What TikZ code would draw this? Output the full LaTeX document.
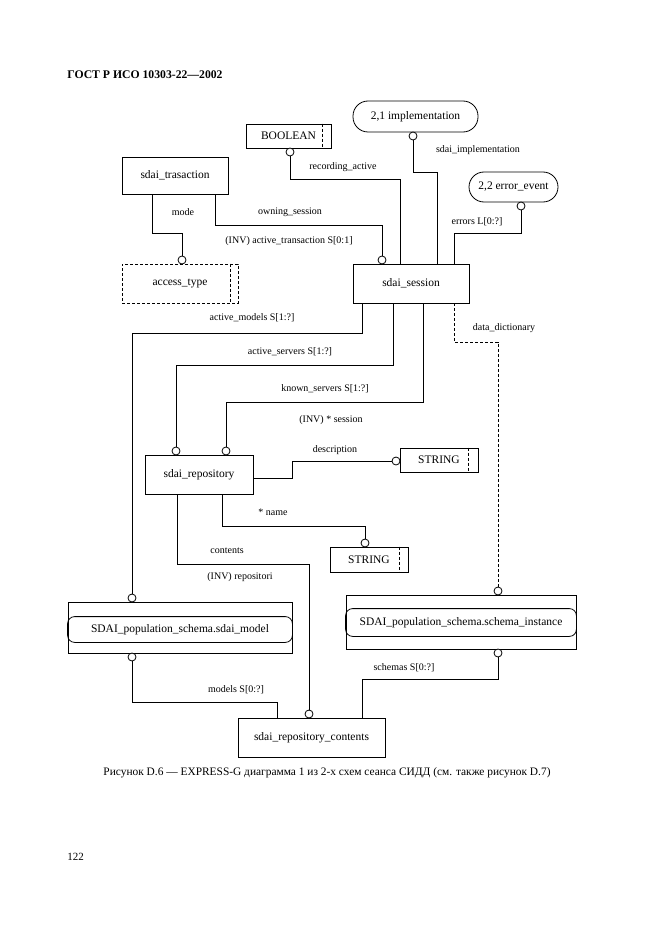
\documentclass[tikz,border=0pt]{standalone}
\usepackage{fontspec}
\setmainfont{Liberation Serif}
\usetikzlibrary{calc}
\newcommand\nfont{\fontsize{11.5}{13}\selectfont}
\newcommand\lfont{\fontsize{10}{12}\selectfont}
\begin{document}
\begin{tikzpicture}[x=1pt,y=-1pt,
  every path/.style={line width=0.8pt},
  ent/.style={draw, line width=0.8pt, inner sep=0pt, font=\nfont},
  stadium/.style={ent, rounded corners=15pt},
  dsh/.style={dash pattern=on 3pt off 2pt},
  ring/.style={circle, draw, fill=white, inner sep=0pt, minimum size=8pt, line width=0.8pt},
  lbl/.style={font=\lfont, inner sep=0pt}]
\useasboundingbox (0,0) rectangle (661,936);
\fill[white] (0,0) rectangle (661,936);

% header, caption, page number
\node[anchor=west, font=\fontsize{11.7}{13}\selectfont\bfseries, inner sep=0pt] (hdr) at (67,75) {ГОСТ Р ИСО 10303-22—2002};
\node[font=\fontsize{11.4}{13}\selectfont, inner sep=0pt] (cap) at (327,773) {Рисунок D.6 — EXPRESS-G диаграмма 1 из 2-х схем сеанса СИДД (см. также рисунок D.7)};
\node[anchor=west, font=\fontsize{11}{13}\selectfont, inner sep=0pt] (pg) at (67,857) {122};

% boxes
\node[ent, minimum width=85pt, minimum height=24pt] (bool) at (288.5,136) {BOOLEAN\hspace{8pt}};
\draw[dsh] ([xshift=-9pt]bool.north east) -- ([xshift=-9pt]bool.south east);
\node[stadium, minimum width=125pt, minimum height=31pt] (impl) at (415.5,116.5) {2,1 implementation};
\node[stadium, minimum width=89pt, minimum height=30pt] (err) at (513.5,187) {2,2 error\_event};
\node[ent, minimum width=106pt, minimum height=37pt] (trans) at (175,175.5) {sdai\_trasaction};
\node[ent, dsh, minimum width=116pt, minimum height=39pt] (acc) at (180,283.5) {access\_type\hspace{6pt}};
\draw[dsh] ([xshift=-8pt]acc.north east) -- ([xshift=-8pt]acc.south east);
\node[ent, minimum width=116pt, minimum height=39pt] (sess) at (411,283.5) {sdai\_session};
\node[ent, minimum width=108pt, minimum height=39pt] (repo) at (199,474.5) {sdai\_repository};
\node[ent, minimum width=78pt, minimum height=24pt] (str1) at (439,460) {STRING\hspace{8pt}};
\draw[dsh] ([xshift=-10pt]str1.north east) -- ([xshift=-10pt]str1.south east);
\node[ent, minimum width=78pt, minimum height=25pt] (str2) at (369,559.5) {STRING\hspace{8pt}};
\draw[dsh] ([xshift=-9pt]str2.north east) -- ([xshift=-9pt]str2.south east);
\node[ent, minimum width=224pt, minimum height=51pt] (model) at (180,627.5) {};
\draw[rounded corners=7pt] ([yshift=-15pt]model.north west) rectangle ([yshift=11pt]model.south east);
\node[font=\nfont, inner sep=0pt] (modelt) at (180,629.5) {SDAI\_population\_schema.sdai\_model};
\node[ent, minimum width=230pt, minimum height=54pt] (inst) at (461,622) {};
\draw[rounded corners=7pt] ([yshift=-14pt]inst.north west) rectangle ([yshift=13pt]inst.south east);
\node[font=\nfont, inner sep=0pt] (instt) at (461,622.5) {SDAI\_population\_schema.schema\_instance};
\node[ent, minimum width=147pt, minimum height=39pt] (cont) at (311.5,737.5) {sdai\_repository\_contents};

% rings
\node[ring] (cbool) at (290,152) {};
\node[ring] (cimpl) at (413,136) {};
\node[ring] (cerr) at (521,206) {};
\node[ring] (csess) at (382,260) {};
\node[ring] (cacc) at (182,260) {};
\node[ring] (crepo1) at (176,451) {};
\node[ring] (crepo2) at (226,451) {};
\node[ring] (cstr1) at (396,461) {};
\node[ring] (cstr2) at (365,543) {};
\node[ring] (cmodt) at (132,598) {};
\node[ring] (cmodb) at (132,657) {};
\node[ring] (cinstt) at (498,591) {};
\node[ring] (cinstb) at (498,653) {};
\node[ring] (ccont) at (309,714) {};

% connectors
\draw (cbool) |- (400,179) -- (sess.north -| 400,0);
\draw (cimpl) |- (437,172) -- (sess.north -| 437,0);
\draw (cerr) |- (454,233) -- (sess.north -| 454,0);
\draw (trans.south -| 215,0) |- (382,225) -- (csess);
\draw (trans.south -| 152,0) |- (182,233) -- (cacc);
\draw (sess.south -| 362,0) |- (132,333) -- (cmodt);
\draw (sess.south -| 393,0) |- (176,365) -- (crepo1);
\draw (sess.south -| 423,0) |- (226,402) -- (crepo2);
\draw[dsh] (sess.south -| 454,0) |- (498,342) -- (cinstt);
\draw (repo.east |- 0,478) -| (292,461) -- (cstr1);
\draw (repo.south -| 222,0) |- (365,526) -- (cstr2);
\draw (repo.south -| 177,0) |- (309,564) -- (ccont);
\draw (cmodb) |- (277,702) -- (cont.north -| 277,0);
\draw (cinstb) |- (362,679) -- (cont.north -| 362,0);

% labels
\node[lbl] (l1) at (343,167) {recording\_active};
\node[lbl] (l2) at (478,150) {sdai\_implementation};
\node[lbl] (l3) at (477,222) {errors L[0:?]};
\node[lbl] (l4) at (504,328) {data\_dictionary};
\node[lbl] (l5) at (183,212) {mode};
\node[lbl] (l6) at (290,212) {owning\_session};
\node[lbl] (l7) at (289,241) {(INV) active\_transaction S[0:1]};
\node[lbl] (l8) at (252,318) {active\_models S[1:?]};
\node[lbl] (l9) at (290,352) {active\_servers S[1:?]};
\node[lbl] (l10) at (325,389) {known\_servers S[1:?]};
\node[lbl] (l11) at (331,420) {(INV) * session};
\node[lbl] (l12) at (335,450) {description};
\node[lbl] (l13) at (273,512) {* name};
\node[lbl] (l14) at (227,551) {contents};
\node[lbl] (l15) at (240,577) {(INV) repositori};
\node[lbl] (l16) at (236,690) {models S[0:?]};
\node[lbl] (l17) at (404,668) {schemas S[0:?]};
\end{tikzpicture}
\end{document}
